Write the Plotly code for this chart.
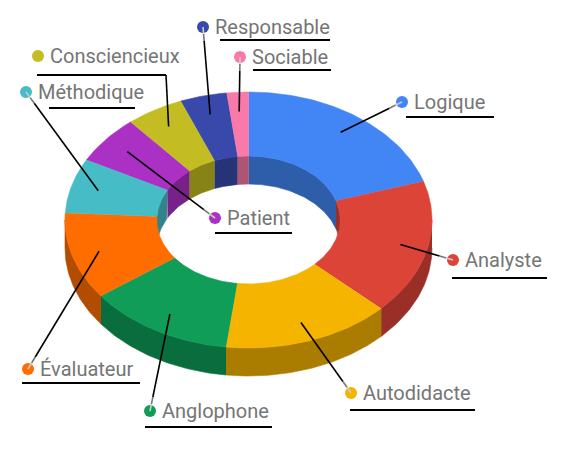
import numpy
import plotly.graph_objects

labels = ["Logique", "Analyste", "Autodidacte", "Anglophone", "Évaluateur",
          "Méthodique", "Patient", "Consciencieux", "Responsable", "Sociable"]
values = [20.1, 17.0, 14.8, 12.9, 11.0, 6.9, 6.1, 5.1, 4.1, 1.9]
colors = ["#4285F4", "#DB4437", "#F4B400", "#0F9D58", "#FF6D00",
          "#46BDC6", "#AB30C4", "#C3BC22", "#3949AB", "#F979A8"]

# label placement: dot centre and underline (x0, x1, y), in page pixels
label_dot = {
    "Logique": (402, 102), "Analyste": (453, 260), "Autodidacte": (351, 393),
    "Anglophone": (150, 411), "Évaluateur": (28, 369), "Méthodique": (26, 92),
    "Patient": (215, 218), "Consciencieux": (38, 56), "Responsable": (203, 27),
    "Sociable": (240, 57),
}
label_underline = {
    "Logique": (406, 494, 117), "Analyste": (452, 547, 278), "Autodidacte": (350, 475, 410),
    "Anglophone": (145, 272, 427), "Évaluateur": (22, 140, 383), "Méthodique": (49, 135, 108),
    "Patient": (215, 292, 233), "Consciencieux": (37, 166, 75), "Responsable": (220, 330, 40),
    "Sociable": (253, 331, 70),
}
elbow_labels = {"Consciencieux"}

W, H = 566, 458
cx, cy, rx, ry = 248.5, 220, 183.5, 128
hole = 0.5
depth = 28
lead_r = 0.85


def shade(c, f=0.7):
    r, g, b = int(c[1:3], 16), int(c[3:5], 16), int(c[5:7], 16)
    return "rgb(%d,%d,%d)" % (r * f, g * f, b * f)


def arc(r, a, b, dy=0):
    t = numpy.radians(numpy.linspace(a, b, max(2, int(abs(b - a)) + 2)))
    return cx + r * rx * numpy.sin(t), cy - r * ry * numpy.cos(t) + dy


def clip(a, b, lo, hi):
    a2, b2 = max(a, lo), min(b, hi)
    return (a2, b2) if b2 > a2 else None


def poly(xs, ys, color):
    return plotly.graph_objects.Scatter(
        x=numpy.concatenate(xs), y=numpy.concatenate(ys), mode="lines",
        fill="toself", fillcolor=color, line=dict(color=color, width=0.6),
        hoverinfo="skip", showlegend=False)


total = sum(values)
edges = numpy.concatenate([[0], numpy.cumsum(values) / total * 360])

fig = plotly.graph_objects.Figure()

# inner wall, seen through the hole (back half)
for i in range(len(values)):
    for lo, hi in [(0, 90), (270, 360)]:
        seg = clip(edges[i], edges[i + 1], lo, hi)
        if seg:
            x1, y1 = arc(hole, seg[0], seg[1])
            x2, y2 = arc(hole, seg[1], seg[0], depth)
            fig.add_trace(poly([x1, x2], [y1, y2], shade(colors[i])))

# outer wall (front half)
for i in range(len(values)):
    seg = clip(edges[i], edges[i + 1], 90, 270)
    if seg:
        x1, y1 = arc(1, seg[0], seg[1])
        x2, y2 = arc(1, seg[1], seg[0], depth)
        fig.add_trace(poly([x1, x2], [y1, y2], shade(colors[i])))

# top faces
for i in range(len(values)):
    x1, y1 = arc(1, edges[i], edges[i + 1])
    x2, y2 = arc(hole, edges[i + 1], edges[i])
    fig.add_trace(poly([x1, x2], [y1, y2], colors[i]))

# labels
shapes = []
annotations = []
for i, name in enumerate(labels):
    mid = numpy.radians((edges[i] + edges[i + 1]) / 2)
    sx = cx + lead_r * rx * numpy.sin(mid)
    sy = cy - lead_r * ry * numpy.cos(mid)
    dx, dy = label_dot[name]
    ux0, ux1, uy = label_underline[name]
    if name in elbow_labels:
        ex, ey = ux1, uy
        shapes.append(dict(type="line", x0=sx, y0=sy, x1=ex, y1=ey, line=dict(color="black", width=1.6)))
    else:
        length = numpy.hypot(dx - sx, dy - sy)
        f1 = max(0, 1 - 14 / length)
        f2 = max(0, 1 - 7 / length)
        p1 = (sx + (dx - sx) * f1, sy + (dy - sy) * f1)
        p2 = (sx + (dx - sx) * f2, sy + (dy - sy) * f2)
        shapes.append(dict(type="line", x0=sx, y0=sy, x1=p1[0], y1=p1[1], line=dict(color="black", width=1.6)))
        shapes.append(dict(type="line", x0=p1[0], y0=p1[1], x1=p2[0], y1=p2[1], line=dict(color="#777777", width=1.6)))
        shapes.append(dict(type="line", x0=p2[0], y0=p2[1], x1=dx, y1=dy, line=dict(color="#cccccc", width=1.6)))
    shapes.append(dict(type="line", x0=ux0, y0=uy, x1=ux1, y1=uy, line=dict(color="black", width=2)))
    annotations.append(dict(x=dx + 10, y=dy, text=name, showarrow=False, xanchor="left", yanchor="middle",
                            font=dict(family="Roboto", size=20, color="#757575")))

fig.add_trace(plotly.graph_objects.Scatter(
    x=[label_dot[n][0] for n in labels], y=[label_dot[n][1] for n in labels],
    mode="markers", marker=dict(size=12, color=colors), hoverinfo="skip", showlegend=False))

fig.update_xaxes(visible=False, range=[0, W], fixedrange=True)
fig.update_yaxes(visible=False, range=[H, 0], fixedrange=True)
fig.update_layout(
    width=W, height=H,
    margin=dict(l=0, r=0, t=0, b=0),
    plot_bgcolor="white",
    paper_bgcolor="white",
    shapes=shapes,
    annotations=annotations,
)

fig.write_html("out.html", config={"displayModeBar": False},
               post_script="document.body.style.margin = '0';")
